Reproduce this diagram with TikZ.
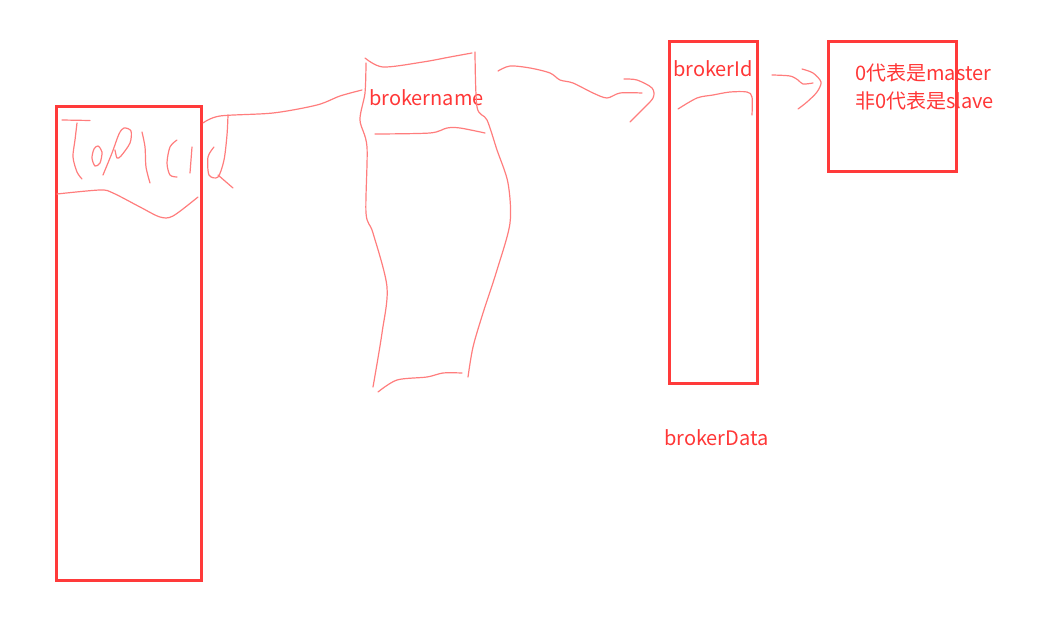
\documentclass[tikz,border=0pt]{standalone}
\usepackage{fontspec}
\setmainfont{Noto Sans CJK SC}
\definecolor{boxred}{RGB}{255,58,58}
\definecolor{txtred}{RGB}{255,55,55}
\definecolor{penred}{RGB}{255,125,125}
\tikzset{
  box/.style={draw=boxred, line width=3pt, inner sep=0pt},
  lbl/.style={text=txtred, font=\fontsize{20}{24}\selectfont, inner sep=0pt, anchor=base west},
  pen/.style={draw=penred, line width=1.2pt, line cap=round, line join=round},
}
\begin{document}
\begin{tikzpicture}[x=1pt,y=-1pt]
\useasboundingbox (0,0) rectangle (1040,628);
% boxes
\node[box, minimum width=145pt, minimum height=474pt, anchor=north west] (topic) at (54.5,105) {};
\node[box, minimum width=88pt, minimum height=342pt, anchor=north west] (bdata) at (667.5,40) {};
\node[box, minimum width=128pt, minimum height=130pt, anchor=north west] (role) at (826.5,40) {};
% texts
\node[lbl] (bname) at (369,106) {brokername};
\node[lbl] (bid) at (673,77) {brokerId};
\node[lbl] (m1) at (855,81) {0代表是master};
\node[lbl] (m2) at (855,109) {非0代表是slave};
\node[lbl] (bdlabel) at (664,445) {brokerData};
% handwritten TopicId
\draw[pen] (62,120) -- (90,120.5);
\draw[pen] plot[smooth] coordinates {(77,123) (75,140) (73,157) (77,172) (82,179)};
\draw[pen] plot[smooth cycle] coordinates {(98,146) (102,152) (100,163) (95,166) (92,158) (94,149)};
\draw[pen] plot[smooth] coordinates {(103,175) (112,153) (119,134) (124,128) (131,131) (130,143) (121,156) (117,158) (115,150)};
\draw[pen] plot[smooth] coordinates {(142,132) (145,147) (146,167) (150,183)};
\draw[pen] plot[smooth] coordinates {(177,140) (170,147) (167,163) (170,175) (177,177)};
\draw[pen] (192,147) -- (190,173);
\draw[pen] plot[smooth] coordinates {(214,147) (208,157) (209,175) (218,177) (224,160) (227,135) (228,115)};
\draw[pen] (218,175) -- (233,188);
\draw[pen] plot[smooth] coordinates {(57,194) (100,190) (113,193) (140,207) (160,217) (173,216) (198,197)};
% connector topic -> brokername
\coordinate (c1s) at (203,123);
\coordinate (c1e) at (362,90);
\draw[pen] plot[smooth] coordinates {(c1s) (220,116) (273,113) (317,105) (340,96) (c1e)};
% brokername sketch
\draw[pen] plot[smooth] coordinates {(365,58) (383,67) (423,62) (450,57) (472,53)};
\draw[pen] plot[smooth] coordinates {(366,63) (365,93) (360,120) (367,147) (366,213) (373,233) (387,287) (382,333) (373,387)};
\draw[pen] plot[smooth] coordinates {(475,52) (477,107) (487,120) (497,150) (508,183) (510,223) (497,270) (483,313) (473,347) (468,377)};
\draw[pen] plot[smooth] coordinates {(375,134) (430,133) (447,128) (460,128) (485,133)};
\draw[pen] plot[smooth] coordinates {(378,392) (397,380) (427,377) (443,373) (462,373)};
% connector brokername -> brokerData
\coordinate (c2s) at (498,71);
\coordinate (c2e) at (642,93);
\draw[pen] plot[smooth] coordinates {(c2s) (510,66) (530,68) (550,73) (560,80) (573,83) (593,93) (607,98) (620,93) (c2e)};
\draw[pen] plot[smooth] coordinates {(624,79) (637,80) (652,88) (653,98) (640,112) (630,122)};
% brokerData inner curve
\draw[pen] plot[smooth] coordinates {(678,109) (697,98) (713,95) (730,92) (747,92) (752,97) (752,115)};
% connector brokerId -> role
\coordinate (c3s) at (772,75);
\coordinate (c3e) at (813,83);
\draw[pen] plot[smooth] coordinates {(c3s) (790,76) (798,80) (803,84) (c3e)};
\draw[pen] plot[smooth] coordinates {(802,69) (813,73) (821,82) (817,92) (807,102) (798,109)};
\end{tikzpicture}
\end{document}
